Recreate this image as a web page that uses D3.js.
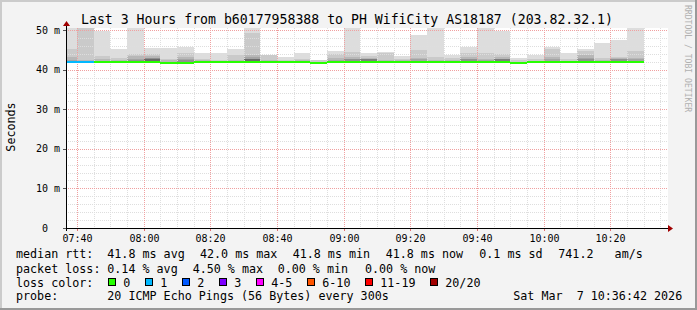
<!DOCTYPE html>
<html>
<head>
<meta charset="utf-8">
<script src="https://cdn.jsdelivr.net/npm/d3@7"></script>
<style>
body { margin: 0; background: #f3f3f3; }
svg { display: block; }
text { font-family: "DejaVu Sans Mono", monospace; white-space: pre; }
</style>
</head>
<body>
<div id="chart-area"></div>
<script>
/*
*    smokeping style latency graph
*/

var title = "Last 3 Hours from b60177958388 to PH WifiCity AS18187 (203.82.32.1)";
var rangeStart = new Date(2026, 2, 7, 7, 36, 42);
var rangeEnd = new Date(2026, 2, 7, 10, 36, 42);
var firstBin = new Date(2026, 2, 7, 7, 35, 0);
var stepMinutes = 5;

// median rtt per 5 minute step (ms)
var median = [41.9, 41.9, 41.8, 41.8, 42.0, 42.0, 41.75, 41.75, 42.0, 41.9,
              41.9, 41.9, 41.8, 41.8, 41.8, 41.75, 41.9, 41.9, 41.8, 41.8,
              41.8, 41.9, 41.9, 41.8, 41.8, 41.9, 41.9, 41.75, 41.8, 41.8,
              41.8, 41.8, 41.8, 41.8, 41.8];
// lost pings out of 20
var loss = [1, 1, 0, 0, 0, 0, 0, 0, 0, 0, 0, 0, 0, 0, 0, 0, 0, 0, 0, 0,
            0, 0, 0, 0, 0, 0, 0, 0, 0, 0, 0, 0, 0, 0, 0];
// lowest ping per step (ms)
var minRtt = [41.6, 41.6, 41.6, 41.6, 41.7, 41.7, 41.6, 41.6, 41.7, 41.6,
              41.6, 41.6, 41.6, 41.6, 41.6, 41.6, 41.6, 41.6, 41.6, 41.6,
              41.6, 41.6, 41.6, 41.6, 41.6, 41.6, 41.6, 41.6, 41.6, 41.6,
              41.6, 41.6, 41.6, 41.6, 41.6];
// upper edge of smoke bands, outermost first (ms)
var smoke = [
  [55, 45.2, 43.2, 42.4],
  [55, 55, 42.3],
  [49.8, 43.5, 42.6],
  [45.1, 42.9, 42.5],
  [55, 44.0, 43.4, 42.8, 42.5],
  [45.5, 44.0, 43.4, 43.0, 43.0, 42.7, 42.7],
  [45.4, 42.6, 42.4],
  [45.8, 44.2, 43.2, 42.7, 42.4],
  [44.3, 42.8, 42.4],
  [44.3, 42.3],
  [45.2, 43.8, 42.5],
  [55, 49.3, 43.7, 43.2, 42.8, 42.7, 42.7],
  [43.8, 43.6, 42.4],
  [43.3, 42.5],
  [44.3, 42.8, 42.4],
  [42.5, 42.3],
  [44.7, 43.9, 43.0, 42.5],
  [55, 44.4, 43.3, 42.8, 42.7],
  [44.1, 43.5, 43.0, 42.8, 42.7, 42.6],
  [44.4, 44.2, 42.5],
  [43.4, 42.6, 42.4],
  [48.7, 44.9, 43.0, 42.6],
  [55, 43.2, 42.5],
  [43.8, 43.0, 42.5],
  [45.8, 44.3, 43.3, 42.8, 42.7],
  [55, 44.1, 42.8, 42.5],
  [49.8, 43.9, 43.2, 42.8, 42.7, 42.6],
  [43.0, 42.3],
  [43.8, 42.6],
  [45.8, 45.1, 43.2, 42.6],
  [44.3, 42.6],
  [45.2, 44.6, 43.8, 43.0, 42.7],
  [46.8, 43.0, 42.5],
  [47.5, 43.3, 42.9, 42.7, 42.6],
  [55, 44.7, 42.9, 42.6]
];

var yTicks = [0, 10, 20, 30, 40, 50];
var yTickLabels = [" 0", "10 m", "20 m", "30 m", "40 m", "50 m"];

var lossLabels = ["0", "1", "2", "3", "4-5", "6-10", "11-19", "20/20"];
var lossColors = ["#26ff00", "#00b8ff", "#0059ff", "#7e00ff", "#ff00ff", "#ff5500", "#ff0000", "#a10000"];
var lossLimits = [0, 1, 2, 3, 5, 10, 19, 20];

var rttStats = ["41.8 ms avg", "42.0 ms max", "41.8 ms min", "41.8 ms now", "0.1 ms sd", "741.2   am/s"];
var lossStats = ["0.14 % avg", "4.50 % max", "0.00 % min", "0.00 % now"];
var probeText = "20 ICMP Echo Pings (56 Bytes) every 300s";
var stamp = "Sat Mar  7 10:36:42 2026";

var W = 697, H = 310;
var pLeft = 66, pRight = 666, pTop = 28, pBottom = 228;

var svg = d3.select("#chart-area").append("svg")
    .attr("width", W)
    .attr("height", H);

svg.append("rect").attr("width", W).attr("height", H).attr("fill", "#f3f3f3");
svg.append("rect").attr("x", 0).attr("y", 0).attr("width", W).attr("height", 2).attr("fill", "#cbcbcb");
svg.append("rect").attr("x", 0).attr("y", 0).attr("width", 2).attr("height", H).attr("fill", "#cbcbcb");
svg.append("rect").attr("x", 0).attr("y", H - 2).attr("width", W).attr("height", 2).attr("fill", "#999999");
svg.append("rect").attr("x", W - 2).attr("y", 0).attr("width", 2).attr("height", H).attr("fill", "#999999");

svg.append("rect")
    .attr("x", pLeft).attr("y", pTop)
    .attr("width", pRight - pLeft + 2).attr("height", pBottom - pTop)
    .attr("fill", "#ffffff");

var x = d3.scaleTime().domain([rangeStart, rangeEnd]).range([pLeft, pRight]);
var y = d3.scaleLinear().domain([0, 50.505]).range([pBottom, pTop]);

svg.append("clipPath").attr("id", "plotclip")
  .append("rect")
    .attr("x", pLeft).attr("y", pTop)
    .attr("width", pRight - pLeft).attr("height", pBottom - pTop);

var bins = smoke.map(function(d, i) {
  var s = d3.timeMinute.offset(firstBin, i * stepMinutes);
  return {i: i, start: s, end: d3.timeMinute.offset(s, stepMinutes)};
});

function greyFor(k) {
  var half = 10;
  var c = Math.floor(190 / half * (half - (k + 1))) + 50;
  return d3.rgb(c, c, c).toString();
}

var smokeG = svg.append("g").attr("clip-path", "url(#plotclip)").attr("shape-rendering", "crispEdges");
bins.forEach(function(b) {
  var x0 = Math.round(x(b.start)), x1 = Math.round(x(b.end));
  var yLow = Math.round(y(minRtt[b.i]));
  smoke[b.i].forEach(function(edge, k) {
    var yTop = Math.round(y(edge));
    smokeG.append("rect")
      .attr("x", x0).attr("y", yTop)
      .attr("width", x1 - x0).attr("height", Math.max(0, yLow - yTop))
      .attr("fill", greyFor(k));
  });
});

// grid
var gridG = svg.append("g").attr("shape-rendering", "crispEdges");
var minorY = d3.range(2, 51, 2).filter(function(v) { return v % 10 !== 0; });
minorY.forEach(function(v) {
  var yy = Math.round(y(v)) + 0.5;
  gridG.append("line").attr("x1", pLeft).attr("x2", pRight + 2).attr("y1", yy).attr("y2", yy)
    .attr("stroke", "#dedede").attr("stroke-dasharray", "1,1");
});
var minorX = d3.timeMinute.every(5).range(rangeStart, rangeEnd)
  .filter(function(t) { return t.getMinutes() % 20 !== 0; });
minorX.forEach(function(t) {
  var xx = Math.round(x(t)) + 0.5;
  gridG.append("line").attr("x1", xx).attr("x2", xx).attr("y1", pTop).attr("y2", pBottom)
    .attr("stroke", "#dedede").attr("stroke-dasharray", "1,1");
});
yTicks.slice(1).forEach(function(v) {
  var yy = Math.round(y(v)) + 0.5;
  gridG.append("line").attr("x1", pLeft).attr("x2", pRight + 2).attr("y1", yy).attr("y2", yy)
    .attr("stroke", "#f0a0a0").attr("stroke-dasharray", "1,1");
});
var majorX = d3.timeMinute.every(20).range(rangeStart, rangeEnd);
majorX.forEach(function(t) {
  var xx = Math.round(x(t)) + 0.5;
  gridG.append("line").attr("x1", xx).attr("x2", xx).attr("y1", pTop).attr("y2", pBottom)
    .attr("stroke", "#f0a0a0").attr("stroke-dasharray", "1,1");
  gridG.append("line").attr("x1", xx).attr("x2", xx).attr("y1", pBottom).attr("y2", pBottom + 3)
    .attr("stroke", "#e07070");
});

// median line coloured by loss
var lineG = svg.append("g").attr("clip-path", "url(#plotclip)").attr("shape-rendering", "crispEdges");
function lossIndex(n) {
  for (var j = 0; j < lossLimits.length; j++) if (n <= lossLimits[j]) return j;
  return lossLimits.length - 1;
}
bins.forEach(function(b) {
  var yy = Math.round(y(median[b.i]));
  lineG.append("rect")
    .attr("x", Math.round(x(b.start))).attr("y", yy - 1)
    .attr("width", Math.round(x(b.end)) - Math.round(x(b.start))).attr("height", 2)
    .attr("fill", lossColors[lossIndex(loss[b.i])]);
});

// axes
var axisG = svg.append("g").attr("shape-rendering", "crispEdges");
axisG.append("line").attr("x1", pLeft - 3).attr("x2", pRight + 3).attr("y1", pBottom + 0.5).attr("y2", pBottom + 0.5)
  .attr("stroke", "#000");
axisG.append("line").attr("x1", pLeft + 0.5).attr("x2", pLeft + 0.5).attr("y1", pBottom + 3).attr("y2", pTop - 2)
  .attr("stroke", "#000");
yTicks.forEach(function(v) {
  var yy = Math.round(y(v)) + 0.5;
  axisG.append("line").attr("x1", pLeft - 3).attr("x2", pLeft).attr("y1", yy).attr("y2", yy).attr("stroke", "#555");
});
svg.append("path")
  .attr("d", "M" + (pRight + 2) + "," + (pBottom - 3) + " L" + (pRight + 7) + "," + (pBottom + 0.5) + " L" + (pRight + 2) + "," + (pBottom + 4) + " Z")
  .attr("fill", "#a00000");
svg.append("path")
  .attr("d", "M" + (pLeft - 3) + "," + (pTop - 2) + " L" + (pLeft + 0.5) + "," + (pTop - 7) + " L" + (pLeft + 4) + "," + (pTop - 2) + " Z")
  .attr("fill", "#a00000");

svg.selectAll(".ylab").data(yTicks).enter().append("text")
  .attr("x", 36)
  .attr("y", function(d) { return y(d) + 3.6; })
  .attr("font-size", "10px")
  .text(function(d, i) { return yTickLabels[i]; });

svg.selectAll(".xlab").data(majorX).enter().append("text")
  .attr("x", function(d) { return Math.round(x(d)) + 0.5; })
  .attr("y", 242)
  .attr("text-anchor", "middle")
  .attr("font-size", "10px")
  .text(d3.timeFormat("%H:%M"));

// titles
svg.append("text").attr("x", 347).attr("y", 24).attr("text-anchor", "middle")
  .attr("font-size", "13.2px").text(title);
svg.append("text").attr("transform", "translate(14.5,127) rotate(-90)").attr("text-anchor", "middle")
  .attr("font-size", "11.7px").text("Seconds");
svg.append("text").attr("transform", "translate(685,5) rotate(90)")
  .attr("font-size", "8.1px").attr("fill", "#b0b0b0").text("RRDTOOL / TOBI OETIKER");

// legend
var fs = "11.7px";
function legendText(xx, yy, s) {
  svg.append("text").attr("x", xx).attr("y", yy).attr("font-size", fs).text(s);
}
legendText(16, 258.3, "median rtt:");
[107.3, 200, 292.7, 385.7, 479.3, 558.3].forEach(function(xx, i) { legendText(xx, 258.3, rttStats[i]); });
legendText(16, 272.5, "packet loss:");
[107.3, 192.7, 277.7, 365].forEach(function(xx, i) { legendText(xx, 272.5, lossStats[i]); });
legendText(16, 286.7, "loss color:");
var sqX = 108.3;
lossLabels.forEach(function(lab, i) {
  svg.append("rect")
    .attr("x", Math.round(sqX) + 0.5).attr("y", 278.5)
    .attr("width", 7).attr("height", 7)
    .attr("fill", lossColors[i]).attr("stroke", "#000").attr("shape-rendering", "crispEdges");
  legendText(sqX + 15, 286.7, lab);
  sqX = sqX + 15 + lab.length * 7 + 15;
});
legendText(16, 300.4, "probe:");
legendText(107.3, 300.4, probeText);
legendText(513.3, 300.4, stamp);
</script>
</body>
</html>
